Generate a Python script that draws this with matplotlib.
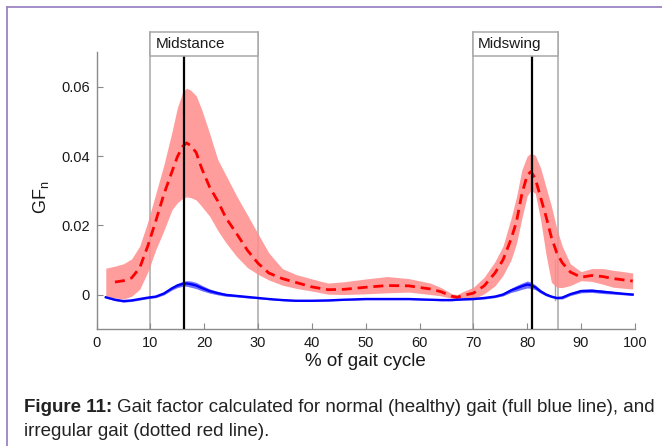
import numpy as np
import matplotlib
matplotlib.use("Agg")
import matplotlib.pyplot as plt
from matplotlib.patches import Rectangle
from matplotlib.lines import Line2D

plt.rcParams['font.family'] = ['Liberation Sans', 'DejaVu Sans']

# % of gait cycle
gait_pct = [1.7, 3.4, 5, 6.5, 8, 9.5, 11, 12.5, 14, 15, 16, 16.7, 17.5, 18.5, 19.5,
            21, 22.5, 24, 26, 28, 30, 32, 34.5, 37, 40, 43, 46, 50, 54, 58, 62, 64,
            66, 67, 68, 70, 72, 74, 75.5, 77, 78, 79, 80, 80.7, 81.5, 82.5, 83.5,
            84.5, 85.5, 86.5, 88, 90, 92, 94, 96, 98, 99.6]

# irregular gait: mean and spread band
irregular_mean = [np.nan, 0.0036, 0.0040, 0.0048, 0.0077, 0.0140, 0.0213, 0.0290, 0.0355,
                  0.0398, 0.0428, 0.0438, 0.0430, 0.0410, 0.0365, 0.0310, 0.0270, 0.0222,
                  0.0176, 0.0128, 0.0090, 0.0062, 0.0046, 0.0035, 0.0022, 0.0014, 0.0015,
                  0.0021, 0.0026, 0.0025, 0.0016, 0.0008, -0.0005, -0.0008, -0.0003,
                  0.0004, 0.0025, 0.0062, 0.0100, 0.0160, 0.0210, 0.0290, 0.0345, 0.0355,
                  0.0335, 0.0280, 0.0225, 0.0165, 0.0120, 0.0092, 0.0065, 0.0050, 0.0055,
                  0.0052, 0.0046, 0.0042, 0.0039]
irregular_upper = [0.0076, 0.0082, 0.0089, 0.0103, 0.0140, 0.0210, 0.0292, 0.0375, 0.0470,
                   0.0540, 0.0585, 0.0596, 0.0590, 0.0574, 0.0535, 0.0465, 0.0390, 0.0345,
                   0.0285, 0.0230, 0.0175, 0.0120, 0.0075, 0.0058, 0.0045, 0.0033, 0.0037,
                   0.0045, 0.0052, 0.0046, 0.0033, 0.0020, 0.0002, 0.0000, 0.0008, 0.0021,
                   0.0050, 0.0095, 0.0140, 0.0220, 0.0282, 0.0360, 0.0400, 0.0408, 0.0402,
                   0.0365, 0.0310, 0.0255, 0.0190, 0.0140, 0.0089, 0.0066, 0.0075, 0.0075,
                   0.0070, 0.0066, 0.0062]
irregular_lower = [-0.0006, -0.0010, -0.0013, -0.0005, 0.0015, 0.0065, 0.0130, 0.0185,
                   0.0245, 0.0265, 0.0278, 0.0282, 0.0280, 0.0273, 0.0255, 0.0226, 0.0185,
                   0.0150, 0.0110, 0.0078, 0.0058, 0.0042, 0.0027, 0.0018, 0.0010, 0.0001,
                   0.0000, 0.0002, 0.0005, 0.0007, 0.0000, -0.0004, -0.0011, -0.0013,
                   -0.0014, -0.0013, 0.0002, 0.0025, 0.0055, 0.0100, 0.0147, 0.0220,
                   0.0285, 0.0301, 0.0292, 0.0215, 0.0115, 0.0035, 0.0021, 0.0020, 0.0026,
                   0.0040, 0.0038, 0.0030, 0.0021, 0.0018, 0.0016]

# normal (healthy) gait: mean and half-width of spread band
normal_mean = [-0.0008, -0.0015, -0.0019, -0.0017, -0.0013, -0.0009, -0.0006, 0.0003,
               0.0018, 0.0026, 0.0031, 0.0032, 0.0030, 0.0026, 0.0019, 0.0010, 0.0004,
               -0.0001, -0.0004, -0.0007, -0.0010, -0.0013, -0.0016, -0.0018, -0.0018,
               -0.0017, -0.0015, -0.0013, -0.0013, -0.0013, -0.0015, -0.0016, -0.0016,
               -0.0015, -0.0014, -0.0013, -0.0010, -0.0006, 0.0000, 0.0012, 0.0018,
               0.0024, 0.0029, 0.0027, 0.0021, 0.0009, 0.0000, -0.0006, -0.0010, -0.0009,
               0.0001, 0.0010, 0.0011, 0.0008, 0.0005, 0.0002, 0.0000]
normal_spread = [0.0002, 0.0003, 0.0003, 0.0003, 0.0003, 0.0003, 0.0003, 0.0004, 0.0005,
                 0.0006, 0.0007, 0.0008, 0.0009, 0.0009, 0.0008, 0.0006, 0.0005, 0.0004,
                 0.0003, 0.0003, 0.0002, 0.0002, 0.0002, 0.0002, 0.0002, 0.0002, 0.0002,
                 0.0002, 0.0002, 0.0002, 0.0002, 0.0002, 0.0002, 0.0002, 0.0002, 0.0002,
                 0.0003, 0.0003, 0.0004, 0.0006, 0.0008, 0.0009, 0.0010, 0.0009, 0.0007,
                 0.0005, 0.0004, 0.0003, 0.0003, 0.0004, 0.0004, 0.0005, 0.0005, 0.0005,
                 0.0004, 0.0003, 0.0003]

# gait phase windows and event markers
phases = [("Midstance", 10, 30, 16.2), ("Midswing", 70, 85.8, 80.9)]

x_ticks = [0, 10, 20, 30, 40, 50, 60, 70, 80, 90, 100]
y_ticks = [0, 0.02, 0.04, 0.06]
y_tick_labels = ["0", "0.02", "0.04", "0.06"]

W, H = 662, 446
x = np.array(gait_pct)
fig = plt.figure(figsize=(W / 100, H / 100), dpi=100)
ax = fig.add_axes([0.146, 0.262, 0.813, 0.621])
ax.set_xlim(0, 100)
ax.set_ylim(-0.01, 0.07)

grey = "#a8a8a8"
box_bottom, box_top = 0.069, 0.0759
for name, x0, x1, event in phases:
    ax.plot([x0, x0], [-0.01, box_top], color=grey, lw=1.1, clip_on=False, zorder=1)
    ax.plot([x1, x1], [-0.01, box_top], color=grey, lw=1.1, clip_on=False, zorder=1)
    ax.add_patch(Rectangle((x0, box_bottom), x1 - x0, box_top - box_bottom,
                           facecolor="white", edgecolor=grey, lw=1.1,
                           clip_on=False, zorder=5))
    ax.text(x0 + 0.9, (box_bottom + box_top) / 2, name, ha="left", va="center",
            fontsize=11, color="#1a1a1a", zorder=6, clip_on=False)

# short grey tick near end of swing window
ax.plot([85.2, 85.2], [-0.0017, 0.0099], color=grey, lw=1.0, zorder=1)

ax.fill_between(x, irregular_lower, irregular_upper, color="#ff8c8c", alpha=0.85,
                lw=0, zorder=2)
ax.plot(x, irregular_mean, color="#ff0000", lw=2.0, linestyle=(0, (3.6, 2.1)), zorder=3)

nm = np.array(normal_mean)
ns = np.array(normal_spread)
ax.fill_between(x, nm - ns, nm + ns, color="#4a4aff", alpha=0.8, lw=0, zorder=3)
ax.plot(x, nm, color="#0000ff", lw=1.7, zorder=4)

for name, x0, x1, event in phases:
    ax.plot([event, event], [-0.01, box_bottom], color="#000000", lw=1.6, zorder=4)

for side in ("top", "right"):
    ax.spines[side].set_visible(False)
for side in ("left", "bottom"):
    ax.spines[side].set_color("#8a8a8a")
    ax.spines[side].set_linewidth(1.0)

ax.set_xticks(x_ticks)
ax.set_yticks(y_ticks)
ax.set_yticklabels(y_tick_labels)
ax.tick_params(direction="in", length=4, width=0.8, color="#8a8a8a",
               labelsize=10.5, labelcolor="#1a1a1a", pad=5)

ax.set_xlabel("% of gait cycle", fontsize=13.5, color="#1a1a1a", labelpad=2)
fig.text(41 / W, 1 - 197 / H, r"GF$_\mathregular{n}$", rotation=90, fontsize=13,
         color="#1a1a1a", ha="center", va="center")

# caption
cap_size = 13.5
bold = fig.text(24 / W, 1 - 412 / H, "Figure 11:", fontsize=cap_size, fontweight="bold",
                color="#222222", ha="left", va="baseline")
fig.canvas.draw()
bb = bold.get_window_extent(renderer=fig.canvas.get_renderer())
fig.text(bb.x1 / W + 5 / W, 1 - 412 / H,
         "Gait factor calculated for normal (healthy) gait (full blue line), and",
         fontsize=cap_size, color="#222222", ha="left", va="baseline")
fig.text(24 / W, 1 - 436 / H, "irregular gait (dotted red line).",
         fontsize=cap_size, color="#222222", ha="left", va="baseline")

# page frame
frame = "#9b84c4"
fig.add_artist(Line2D([7 / W, 1.0], [1 - 7 / H, 1 - 7 / H], color=frame, lw=1.3,
                      transform=fig.transFigure))
fig.add_artist(Line2D([7 / W, 7 / W], [1 - 7 / H, 0.0], color=frame, lw=1.3,
                      transform=fig.transFigure))

fig.savefig("out.png", dpi=100)
